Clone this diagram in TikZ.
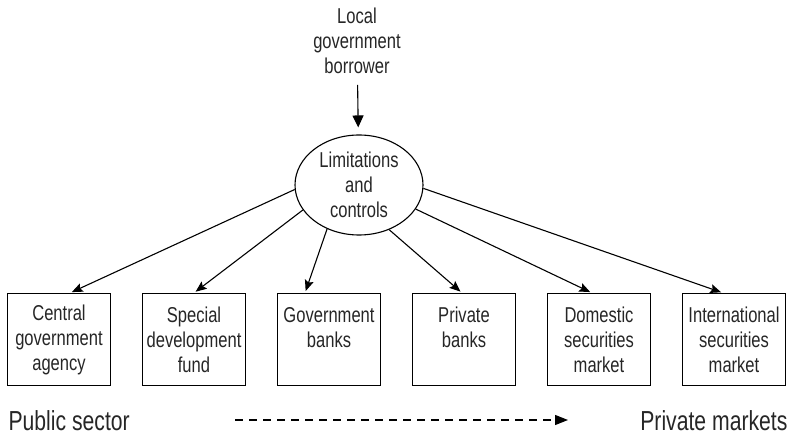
\documentclass[tikz,border=0pt]{standalone}
\usepackage{fontspec}
\setmainfont{Liberation Sans}[FakeStretch=0.77]
\usetikzlibrary{positioning,shapes.geometric,arrows.meta}

\begin{document}
\begin{tikzpicture}[x=1pt, y=1pt, node distance=135pt, line width=1.1pt,
    font=\fontsize{21.5}{25}\selectfont, text=black!85,
    box/.style={draw, rectangle, minimum width=103pt, minimum height=92pt, inner sep=2pt, align=center},
    link/.style={-{Stealth[length=11pt, width=9pt, inset=2pt]}, shorten >=2pt},
    sidelabel/.style={font=\fontsize{27.5}{30}\selectfont, inner sep=0pt}]
    \useasboundingbox (0,0) rectangle (792,-435);

    % Nodes
    \node[align=center] (borrower) at (357,-41) {Local\\government\\borrower};
    \node[draw, ellipse, minimum width=128pt, minimum height=100pt, inner sep=0pt, align=center] (limits) at (359,-185) {Limitations\\and\\controls};
    \node[box] (central) at (59,-339.5) {Central\\government\\agency};
    \node[box, right of=central] (special) {Special\\development\\fund};
    \node[box, right of=special] (govbanks) {Government\\banks\\\mbox{}};
    \node[box, right of=govbanks] (privbanks) {Private\\banks\\\mbox{}};
    \node[box, right of=privbanks] (domestic) {Domestic\\securities\\market};
    \node[box, right of=domestic] (intl) {International\\securities\\market};

    % Sector labels
    \node[sidelabel, anchor=base west] (public) at (8,-430) {Public sector};
    \node[sidelabel, anchor=base east] (markets) at (788,-430) {Private markets};
    \coordinate (dashstart) at (235,-420);
    \coordinate (dashend) at (568,-420);

    % Connections
    \draw[-{Triangle[length=12pt, width=11pt]}, shorten <=7pt, shorten >=7pt] (borrower) -- (limits);
    \draw[link] (limits.184) -- ([xshift=11pt]central.north);
    \draw[link] (limits.204) -- (special.north);
    \draw[link] (limits.234) -- ([xshift=-24pt]govbanks.north);
    \draw[link] (limits.304) -- ([xshift=-2pt]privbanks.north);
    \draw[link] (limits.337) -- ([xshift=-7pt]domestic.north);
    \draw[link] (limits.357) -- ([xshift=-11pt]intl.north);
    \draw[dash pattern=on 8pt off 6pt, -{Triangle[length=13pt, width=10pt]}] (dashstart) -- (dashend);
\end{tikzpicture}
\end{document}
